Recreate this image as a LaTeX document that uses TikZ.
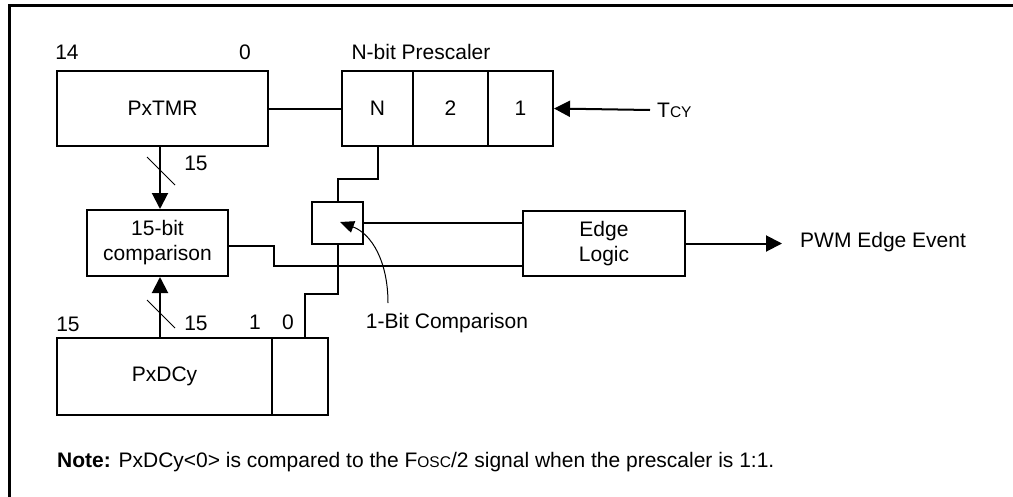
\documentclass[tikz,border=0pt]{standalone}
\usepackage{fontspec}
\setmainfont{Liberation Sans}
\usetikzlibrary{arrows.meta,calc}
\newcommand{\myfs}{\fontsize{21}{25}\selectfont}
\newcommand{\mysc}[1]{{\fontsize{15.5}{16}\selectfont #1}}
\begin{document}
\begin{tikzpicture}[x=1pt,y=-1pt,
  box/.style={draw, line width=2pt, rectangle, inner sep=0pt, align=center, font=\myfs},
  wire/.style={line width=2pt},
  arr/.style={wire, -{Triangle[length=16pt,width=16pt]}},
  lbl/.style={inner sep=0pt, font=\myfs},
  tick/.style={line width=1pt},
  callout/.style={line width=1pt, -{Triangle[length=14pt,width=12pt]}}]
\useasboundingbox (0,0) rectangle (1013,496);
% frame
\draw[line width=3pt] (9,500) -- (9,5) -- (1016,5);
% blocks
\node[box, minimum width=211pt, minimum height=75pt] (tmr) at (162.5,108.5) {PxTMR};
\node[box, minimum width=71pt, minimum height=75pt] (pN) at (377.5,108.5) {N};
\node[box, minimum width=75pt, minimum height=75pt] (p2) at (450.5,108.5) {2};
\node[box, minimum width=65pt, minimum height=75pt] (p1) at (520.5,108.5) {1};
\node[box, minimum width=141pt, minimum height=66pt] (cmp15) at (157.5,243) {15-bit\\comparison};
\node[box, minimum width=51pt, minimum height=42pt] (cmp1) at (337.5,223) {};
\node[box, minimum width=162pt, minimum height=65pt] (edge) at (604,243.5) {Edge\\Logic};
\node[box, minimum width=215pt, minimum height=77pt] (dcy) at (164.5,376.5) {PxDCy};
\node[box, minimum width=56pt, minimum height=77pt] (dcy0) at (300,376.5) {};
% labels
\node[lbl] at (67,52) {14};
\node[lbl] at (245,52) {0};
\node[lbl] at (421,52) {N-bit Prescaler};
\node[lbl, anchor=west] (tcy) at (657,110) {T\mysc{CY}};
\node[lbl] at (196,163) {15};
\node[lbl] at (68,324) {15};
\node[lbl] at (196,323) {15};
\node[lbl] at (255,322) {1};
\node[lbl] at (288,322) {0};
\node[lbl] (cmplbl) at (447,323) {1-Bit Comparison};
\node[lbl, anchor=west] (pwm) at (800,242) {PWM Edge Event};
\node[lbl, anchor=west] (note) at (57,462) {\textbf{Note:} PxDCy<0> is compared to the F\mysc{OSC}/2 signal when the prescaler is 1:1.};
% coordinates
\coordinate (bus) at (160,0);
\coordinate (pwmtip) at (782,0);
\coordinate (cstart) at (388,303);
\coordinate (ctip) at (340,222);
% connectors
\draw[wire] (tmr.east) -- (pN.west);
\draw[arr] ([xshift=-7pt]tcy.west) -- (p1.east);
\draw[arr] (tmr.south -| bus) -- (cmp15.north -| bus);
\draw[tick] (147,157) -- (175,185);
\draw[arr] (dcy.north -| bus) -- (cmp15.south -| bus);
\draw[tick] (147,300) -- (175,328);
\draw[wire] (pN.south) |- ($(cmp1.north)+(0,-22)$) -- (cmp1.north);
\draw[wire] (cmp1.south) -- ++(0,49) -| ([xshift=5pt]dcy0.north);
\draw[wire] (cmp1.east) -- (cmp1.east -| edge.west);
\draw[wire] ([yshift=-3pt]cmp15.east) -- ++(45,0) |- ([yshift=-22.5pt]edge.west);
\draw[arr] (edge.east) -- (edge.east -| pwmtip);
\draw[callout] (cstart) .. controls (388,262) and (372,234) .. (ctip);
\end{tikzpicture}
\end{document}
